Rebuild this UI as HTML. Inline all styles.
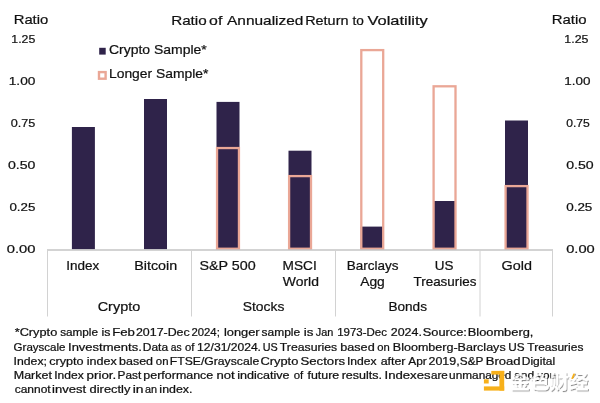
<!DOCTYPE html>
<html><head><meta charset="utf-8"><title>Ratio of Annualized Return to Volatility</title>
<style>
html,body{margin:0;padding:0;background:#fff;width:600px;height:403px;overflow:hidden}
svg{display:block}
text{font-family:"Liberation Sans",sans-serif;fill:#111;stroke:#111;stroke-width:0.22px}
.cn{font-family:"Noto Sans CJK SC",sans-serif;font-size:19.5px;font-weight:bold;fill:#fff;stroke:none}
</style></head>
<body>
<svg width="600" height="403" viewBox="0 0 600 403">
<rect width="600" height="403" fill="#fff"/>
<!-- legend markers -->
<rect x="99.2" y="47.8" width="6.5" height="6.8" fill="#2f234a"/>
<rect x="99.0" y="72.1" width="6.6" height="6.6" fill="none" stroke="#eaa796" stroke-width="2.4"/>
<!-- bars -->
<g fill="#2f234a">
<rect x="71.9" y="127" width="23" height="122.3"/>
<rect x="144" y="99" width="23" height="150.3"/>
<rect x="216.5" y="101.9" width="23" height="147.4"/>
<rect x="288.5" y="150.7" width="23" height="98.6"/>
<rect x="360.7" y="226.6" width="23" height="22.7"/>
<rect x="433" y="201" width="23" height="48.3"/>
<rect x="505" y="120.5" width="23" height="128.8"/>
</g>
<g fill="none" stroke="#eaa796" stroke-width="2.3">
<rect x="217.05" y="148.05" width="21.9" height="100.7"/>
<rect x="289.1" y="176.1" width="21.9" height="72.65"/>
<rect x="361.3" y="50.1" width="21.9" height="198.65"/>
<rect x="433.6" y="86.3" width="21.9" height="162.45"/>
<rect x="505.6" y="186.1" width="21.9" height="62.65"/>
</g>
<!-- axis & separators -->
<g stroke="#d2d2d2" stroke-width="1" fill="none">
<line x1="47" y1="250" x2="553" y2="250" stroke="#c4c4c4" stroke-width="1.4"/>
<line x1="47.5" y1="250" x2="47.5" y2="316.5"/>
<line x1="191.5" y1="250" x2="191.5" y2="316.5"/>
<line x1="335.5" y1="250" x2="335.5" y2="316.5"/>
<line x1="480" y1="250" x2="480" y2="316.5"/>
<line x1="552.5" y1="250" x2="552.5" y2="316.5"/>
</g>
<!-- text -->
<g style="filter:grayscale(1)">
<text x="13.69" y="24.3" textLength="34.57" lengthAdjust="spacingAndGlyphs" style="font-size:13.3px">Ratio</text>
<text x="551.68" y="24.3" textLength="34.88" lengthAdjust="spacingAndGlyphs" style="font-size:13.3px">Ratio</text>
<text x="11.34" y="42.9" textLength="23.98" lengthAdjust="spacingAndGlyphs" style="font-size:11.6px">1.25</text>
<text x="8.72" y="85.0" textLength="26.66" lengthAdjust="spacingAndGlyphs" style="font-size:11.6px">1.00</text>
<text x="10.7" y="127.1" textLength="24.63" lengthAdjust="spacingAndGlyphs" style="font-size:11.6px">0.75</text>
<text x="7.9" y="169.1" textLength="27.5" lengthAdjust="spacingAndGlyphs" style="font-size:11.6px">0.50</text>
<text x="9.4" y="211.2" textLength="25.96" lengthAdjust="spacingAndGlyphs" style="font-size:11.6px">0.25</text>
<text x="6.7" y="253.0" textLength="28.74" lengthAdjust="spacingAndGlyphs" style="font-size:11.6px">0.00</text>
<text x="564.33" y="42.9" textLength="24.08" lengthAdjust="spacingAndGlyphs" style="font-size:11.6px">1.25</text>
<text x="564.24" y="85.0" textLength="26.13" lengthAdjust="spacingAndGlyphs" style="font-size:11.6px">1.00</text>
<text x="566.2" y="127.1" textLength="23.6" lengthAdjust="spacingAndGlyphs" style="font-size:11.6px">0.75</text>
<text x="566.2" y="169.1" textLength="27.5" lengthAdjust="spacingAndGlyphs" style="font-size:11.6px">0.50</text>
<text x="566.2" y="211.2" textLength="26.17" lengthAdjust="spacingAndGlyphs" style="font-size:11.6px">0.25</text>
<text x="566.2" y="253.0" textLength="28.53" lengthAdjust="spacingAndGlyphs" style="font-size:11.6px">0.00</text>
<text x="108.95" y="54.0" textLength="97.83" lengthAdjust="spacingAndGlyphs" style="font-size:13.3px">Crypto Sample*</text>
<text x="108.96" y="78.2" textLength="99.46" lengthAdjust="spacingAndGlyphs" style="font-size:13.3px">Longer Sample*</text>
<text x="66.24" y="269.7" textLength="33.01" lengthAdjust="spacingAndGlyphs" style="font-size:12.7px">Index</text>
<text x="134.27" y="269.7" textLength="42.96" lengthAdjust="spacingAndGlyphs" style="font-size:12.7px">Bitcoin</text>
<text x="199.47" y="269.7" textLength="56.3" lengthAdjust="spacingAndGlyphs" style="font-size:12.7px">S&amp;P 500</text>
<text x="282.62" y="269.7" textLength="34.15" lengthAdjust="spacingAndGlyphs" style="font-size:12.7px">MSCI</text>
<text x="282.8" y="285.8" textLength="36.09" lengthAdjust="spacingAndGlyphs" style="font-size:12.7px">World</text>
<text x="346.74" y="269.7" textLength="51.76" lengthAdjust="spacingAndGlyphs" style="font-size:12.7px">Barclays</text>
<text x="360.2" y="285.8" textLength="24.63" lengthAdjust="spacingAndGlyphs" style="font-size:12.7px">Agg</text>
<text x="434.84" y="269.7" textLength="18.73" lengthAdjust="spacingAndGlyphs" style="font-size:12.7px">US</text>
<text x="413.5" y="285.8" textLength="62.9" lengthAdjust="spacingAndGlyphs" style="font-size:12.7px">Treasuries</text>
<text x="501.57" y="269.7" textLength="30.35" lengthAdjust="spacingAndGlyphs" style="font-size:12.7px">Gold</text>
<text x="97.66" y="311.3" textLength="42.57" lengthAdjust="spacingAndGlyphs" style="font-size:12.7px">Crypto</text>
<text x="242.71" y="311.3" textLength="41.68" lengthAdjust="spacingAndGlyphs" style="font-size:12.7px">Stocks</text>
<text x="388.43" y="311.3" textLength="38.55" lengthAdjust="spacingAndGlyphs" style="font-size:12.7px">Bonds</text>
<text x="171.16" y="24.8" textLength="35.5" lengthAdjust="spacingAndGlyphs" style="font-size:13.3px">Ratio</text>
<text x="209.11" y="24.8" textLength="13.2" lengthAdjust="spacingAndGlyphs" style="font-size:13.3px">of</text>
<text x="227.0" y="24.8" textLength="76.43" lengthAdjust="spacingAndGlyphs" style="font-size:13.3px">Annualized</text>
<text x="305.16" y="24.8" textLength="43.34" lengthAdjust="spacingAndGlyphs" style="font-size:13.3px">Return</text>
<text x="352.5" y="24.8" textLength="11.35" lengthAdjust="spacingAndGlyphs" style="font-size:13.3px">to</text>
<text x="367.5" y="24.8" textLength="60.23" lengthAdjust="spacingAndGlyphs" style="font-size:13.3px">Volatility</text>
<text x="14.7" y="336.3" textLength="42.58" lengthAdjust="spacingAndGlyphs" style="font-size:10.2px">*Crypto</text>
<text x="60.15" y="336.3" textLength="37.87" lengthAdjust="spacingAndGlyphs" style="font-size:10.2px">sample</text>
<text x="101.48" y="336.3" textLength="8.95" lengthAdjust="spacingAndGlyphs" style="font-size:10.2px">is</text>
<text x="112.21" y="336.3" textLength="22.72" lengthAdjust="spacingAndGlyphs" style="font-size:10.2px">Feb</text>
<text x="135.98" y="336.3" textLength="53.74" lengthAdjust="spacingAndGlyphs" style="font-size:10.2px">2017-Dec</text>
<text x="191.49" y="336.3" textLength="28.32" lengthAdjust="spacingAndGlyphs" style="font-size:10.2px">2024;</text>
<text x="223.94" y="336.3" textLength="35.67" lengthAdjust="spacingAndGlyphs" style="font-size:10.2px">longer</text>
<text x="261.52" y="336.3" textLength="38.59" lengthAdjust="spacingAndGlyphs" style="font-size:10.2px">sample</text>
<text x="303.68" y="336.3" textLength="9.69" lengthAdjust="spacingAndGlyphs" style="font-size:10.2px">is</text>
<text x="315.8" y="336.3" textLength="17.57" lengthAdjust="spacingAndGlyphs" style="font-size:10.2px">Jan</text>
<text x="337.17" y="336.3" textLength="49.74" lengthAdjust="spacingAndGlyphs" style="font-size:10.2px">1973-Dec</text>
<text x="390.78" y="336.3" textLength="31.13" lengthAdjust="spacingAndGlyphs" style="font-size:10.2px">2024.</text>
<text x="422.74" y="336.3" textLength="44.15" lengthAdjust="spacingAndGlyphs" style="font-size:10.2px">Source:</text>
<text x="467.74" y="336.3" textLength="65.66" lengthAdjust="spacingAndGlyphs" style="font-size:10.2px">Bloomberg,</text>
<text x="13.57" y="350.5" textLength="51.97" lengthAdjust="spacingAndGlyphs" style="font-size:10.2px">Grayscale</text>
<text x="68.02" y="350.5" textLength="73.75" lengthAdjust="spacingAndGlyphs" style="font-size:10.2px">Investments.</text>
<text x="142.82" y="350.5" textLength="25.3" lengthAdjust="spacingAndGlyphs" style="font-size:10.2px">Data</text>
<text x="170.7" y="350.5" textLength="10.86" lengthAdjust="spacingAndGlyphs" style="font-size:10.2px">as</text>
<text x="185.0" y="350.5" textLength="9.44" lengthAdjust="spacingAndGlyphs" style="font-size:10.2px">of</text>
<text x="197.11" y="350.5" textLength="63.87" lengthAdjust="spacingAndGlyphs" style="font-size:10.2px">12/31/2024.</text>
<text x="262.69" y="350.5" textLength="14.97" lengthAdjust="spacingAndGlyphs" style="font-size:10.2px">US</text>
<text x="279.8" y="350.5" textLength="57.4" lengthAdjust="spacingAndGlyphs" style="font-size:10.2px">Treasuries</text>
<text x="340.26" y="350.5" textLength="34.44" lengthAdjust="spacingAndGlyphs" style="font-size:10.2px">based</text>
<text x="377.25" y="350.5" textLength="12.53" lengthAdjust="spacingAndGlyphs" style="font-size:10.2px">on</text>
<text x="392.87" y="350.5" textLength="112.8" lengthAdjust="spacingAndGlyphs" style="font-size:10.2px">Bloomberg-Barclays</text>
<text x="508.15" y="350.5" textLength="16.33" lengthAdjust="spacingAndGlyphs" style="font-size:10.2px">US</text>
<text x="527.3" y="350.5" textLength="56.11" lengthAdjust="spacingAndGlyphs" style="font-size:10.2px">Treasuries</text>
<text x="13.6" y="364.7" textLength="33.32" lengthAdjust="spacingAndGlyphs" style="font-size:10.2px">Index;</text>
<text x="49.2" y="364.7" textLength="34.43" lengthAdjust="spacingAndGlyphs" style="font-size:10.2px">crypto</text>
<text x="86.77" y="364.7" textLength="29.97" lengthAdjust="spacingAndGlyphs" style="font-size:10.2px">index</text>
<text x="119.08" y="364.7" textLength="33.96" lengthAdjust="spacingAndGlyphs" style="font-size:10.2px">based</text>
<text x="155.8" y="364.7" textLength="12.68" lengthAdjust="spacingAndGlyphs" style="font-size:10.2px">on</text>
<text x="169.8" y="364.7" textLength="89.37" lengthAdjust="spacingAndGlyphs" style="font-size:10.2px">FTSE/Grayscale</text>
<text x="260.44" y="364.7" textLength="37.88" lengthAdjust="spacingAndGlyphs" style="font-size:10.2px">Crypto</text>
<text x="300.45" y="364.7" textLength="44.75" lengthAdjust="spacingAndGlyphs" style="font-size:10.2px">Sectors</text>
<text x="347.01" y="364.7" textLength="29.59" lengthAdjust="spacingAndGlyphs" style="font-size:10.2px">Index</text>
<text x="380.7" y="364.7" textLength="24.77" lengthAdjust="spacingAndGlyphs" style="font-size:10.2px">after</text>
<text x="408.3" y="364.7" textLength="18.54" lengthAdjust="spacingAndGlyphs" style="font-size:10.2px">Apr</text>
<text x="428.48" y="364.7" textLength="31.13" lengthAdjust="spacingAndGlyphs" style="font-size:10.2px">2019,</text>
<text x="459.84" y="364.7" textLength="23.61" lengthAdjust="spacingAndGlyphs" style="font-size:10.2px">S&amp;P</text>
<text x="485.72" y="364.7" textLength="34.82" lengthAdjust="spacingAndGlyphs" style="font-size:10.2px">Broad</text>
<text x="521.83" y="364.7" textLength="33.24" lengthAdjust="spacingAndGlyphs" style="font-size:10.2px">Digital</text>
<text x="13.78" y="378.9" textLength="38.1" lengthAdjust="spacingAndGlyphs" style="font-size:10.2px">Market</text>
<text x="54.22" y="378.9" textLength="29.44" lengthAdjust="spacingAndGlyphs" style="font-size:10.2px">Index</text>
<text x="86.59" y="378.9" textLength="29.67" lengthAdjust="spacingAndGlyphs" style="font-size:10.2px">prior.</text>
<text x="117.59" y="378.9" textLength="23.66" lengthAdjust="spacingAndGlyphs" style="font-size:10.2px">Past</text>
<text x="143.38" y="378.9" textLength="69.87" lengthAdjust="spacingAndGlyphs" style="font-size:10.2px">performance</text>
<text x="216.52" y="378.9" textLength="18.21" lengthAdjust="spacingAndGlyphs" style="font-size:10.2px">not</text>
<text x="237.27" y="378.9" textLength="52.33" lengthAdjust="spacingAndGlyphs" style="font-size:10.2px">indicative</text>
<text x="293.7" y="378.9" textLength="9.49" lengthAdjust="spacingAndGlyphs" style="font-size:10.2px">of</text>
<text x="307.5" y="378.9" textLength="31.78" lengthAdjust="spacingAndGlyphs" style="font-size:10.2px">future</text>
<text x="341.67" y="378.9" textLength="40.37" lengthAdjust="spacingAndGlyphs" style="font-size:10.2px">results.</text>
<text x="384.51" y="378.9" textLength="46.08" lengthAdjust="spacingAndGlyphs" style="font-size:10.2px">Indexes</text>
<text x="431.0" y="378.9" textLength="16.84" lengthAdjust="spacingAndGlyphs" style="font-size:10.2px">are</text>
<text x="449.14" y="378.9" textLength="62.32" lengthAdjust="spacingAndGlyphs" style="font-size:10.2px">unmanaged</text>
<text x="514.0" y="378.9" textLength="20.19" lengthAdjust="spacingAndGlyphs" style="font-size:10.2px">and</text>
<text x="537.0" y="378.9" textLength="19.01" lengthAdjust="spacingAndGlyphs" style="font-size:10.2px">you</text>
<text x="14.7" y="393.1" textLength="36.0" lengthAdjust="spacingAndGlyphs" style="font-size:10.2px">cannot</text>
<text x="52.02" y="393.1" textLength="34.08" lengthAdjust="spacingAndGlyphs" style="font-size:10.2px">invest</text>
<text x="89.6" y="393.1" textLength="40.76" lengthAdjust="spacingAndGlyphs" style="font-size:10.2px">directly</text>
<text x="132.73" y="393.1" textLength="10.85" lengthAdjust="spacingAndGlyphs" style="font-size:10.2px">in</text>
<text x="145.0" y="393.1" textLength="12.07" lengthAdjust="spacingAndGlyphs" style="font-size:10.2px">an</text>
<text x="159.38" y="393.1" textLength="33.06" lengthAdjust="spacingAndGlyphs" style="font-size:10.2px">index.</text>
</g>
<!-- watermark logo -->
<g fill="#f7b01a">
<rect x="491.3" y="370.9" width="12.9" height="3.7"/>
<rect x="499.4" y="370.9" width="4.8" height="19.7"/>
<rect x="483.9" y="386.4" width="20.3" height="4.2"/>
<rect x="483.9" y="379.3" width="4.8" height="4.2"/>
</g>
<!-- watermark text -->
<defs><filter id="sh" x="-10%" y="-20%" width="130%" height="150%"><feDropShadow dx="0.9" dy="1.1" stdDeviation="0.7" flood-color="#000" flood-opacity="0.55"/></filter></defs>
<g filter="url(#sh)" opacity="0.8">
<text class="cn" x="510.5" y="388.6" textLength="78" lengthAdjust="spacingAndGlyphs">金色财经</text>
</g>
<path d="M571.2 378.8 L573.4 373.6 L575.2 373.8 L573 379 Z" fill="#f7b01a"/>
</svg>
</body></html>
